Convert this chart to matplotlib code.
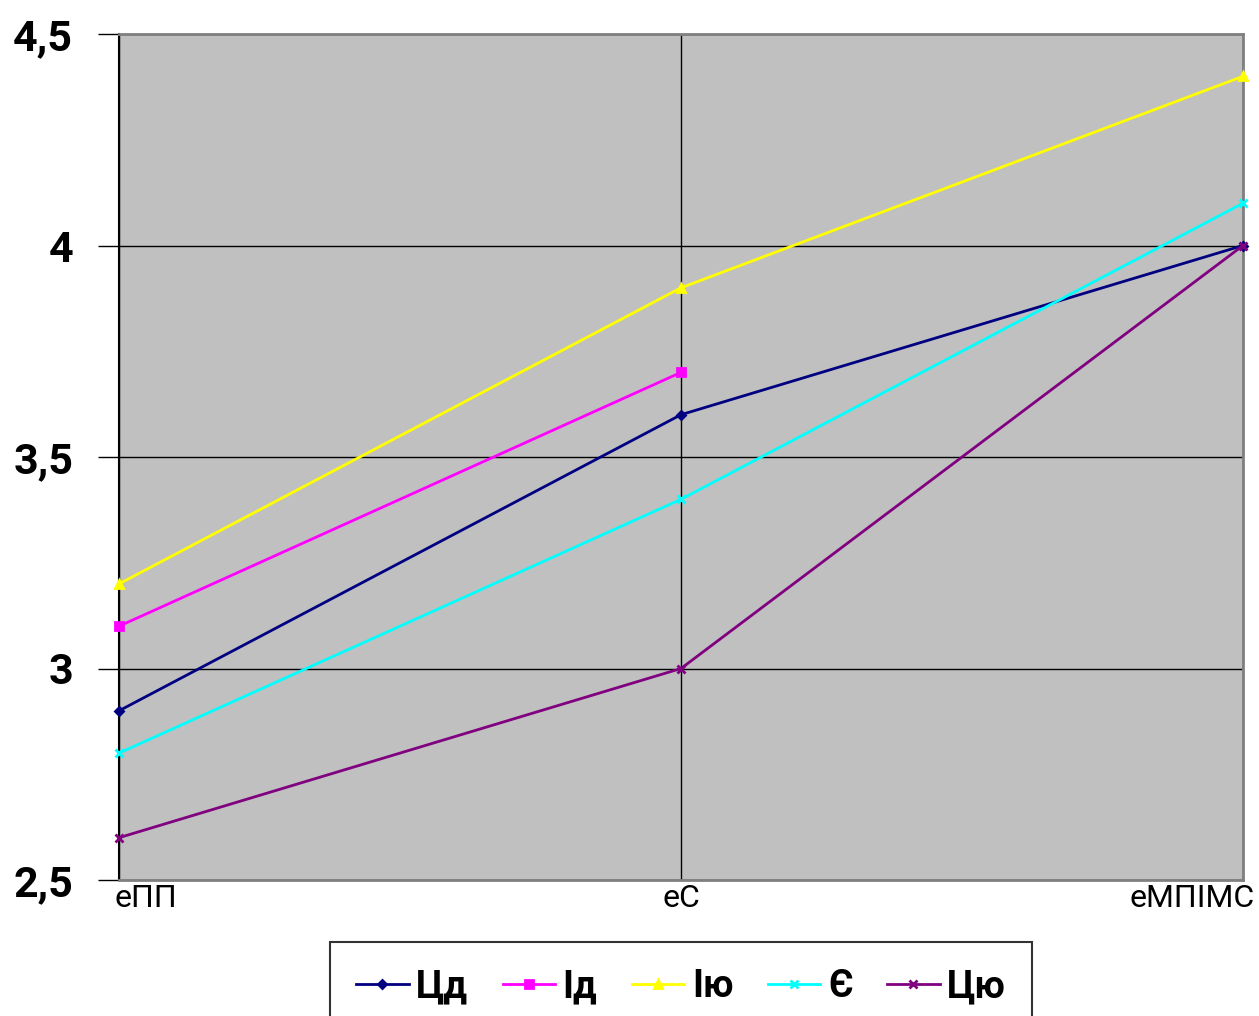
import numpy as np
import matplotlib
matplotlib.use("Agg")
import matplotlib.pyplot as plt
from matplotlib.transforms import ScaledTranslation, blended_transform_factory

plt.rcParams['font.family'] = ['Roboto', 'DejaVu Sans']

categories = ["еПП", "еС", "еМПІМС"]
series_names = ["Цд", "Ід", "Ію", "Є", "Цю"]
values_cd = [2.9, 3.6, 4.0]
values_id = [3.1, 3.7, np.nan]
values_iu = [3.2, 3.9, 4.4]
values_ye = [2.8, 3.4, 4.1]
values_cu = [2.6, 3.0, 4.0]
y_ticks = [2.5, 3.0, 3.5, 4.0, 4.5]
y_tick_labels = ["2,5", "3", "3,5", "4", "4,5"]

series = [values_cd, values_id, values_iu, values_ye, values_cu]
colors = ["#000080", "#FF00FF", "#FFFF00", "#00FFFF", "#800080"]
markers = ["D", "s", "^", "x", "x"]
msizes = [4, 6, 6, 6, 6]

fig = plt.figure(figsize=(12.59, 10.16), dpi=100)
ax = fig.add_axes([119 / 1259, 136 / 1016, 1124 / 1259, 846 / 1016])
ax.set_facecolor("#C0C0C0")

x = np.arange(len(categories))
for name, vals, c, m, ms in zip(series_names, series, colors, markers, msizes):
    ax.plot(x, vals, color=c, lw=2, marker=m, ms=ms, mew=2, label=name,
            zorder=3, clip_on=False)

ax.set_xlim(0, 2)
ax.set_ylim(2.5, 4.5)
ax.set_yticks(y_ticks)
ax.set_yticklabels(y_tick_labels, fontsize=31, fontweight="bold")
ax.set_xticks(x)
ax.set_xticklabels([])
ax.tick_params(axis="x", length=0)
ax.tick_params(axis="y", length=15, width=1, direction="out", pad=18)

# category labels under the axis: first flush left, last flush right
base = blended_transform_factory(ax.transData, ax.transAxes)
aligns = ["left", "center", "right"]
shifts_px = [-4, 0, 12]
for xi, cat, ha, dx in zip(x, categories, aligns, shifts_px):
    tr = base + ScaledTranslation(dx / 100, -4 / 100, fig.dpi_scale_trans)
    ax.text(xi, 0, cat, transform=tr, ha=ha, va="top", fontsize=23,
            clip_on=False)

ax.grid(True, color="black", lw=1)
ax.set_axisbelow(True)
for side in ["top", "right", "bottom"]:
    ax.spines[side].set_color("#808080")
    ax.spines[side].set_linewidth(2)
ax.spines["left"].set_color("black")
ax.spines["left"].set_linewidth(1.5)

leg = fig.legend(loc="upper left", bbox_to_anchor=(330 / 1259, 1 - 942 / 1016),
                 ncol=5, frameon=True, fancybox=False, edgecolor="black",
                 prop={"weight": "bold", "size": 27}, handlelength=1.4,
                 handletextpad=0.2, columnspacing=0.92, borderpad=0.7,
                 borderaxespad=0)
leg.get_frame().set_linewidth(1.5)

fig.savefig("out.png", dpi=100)
